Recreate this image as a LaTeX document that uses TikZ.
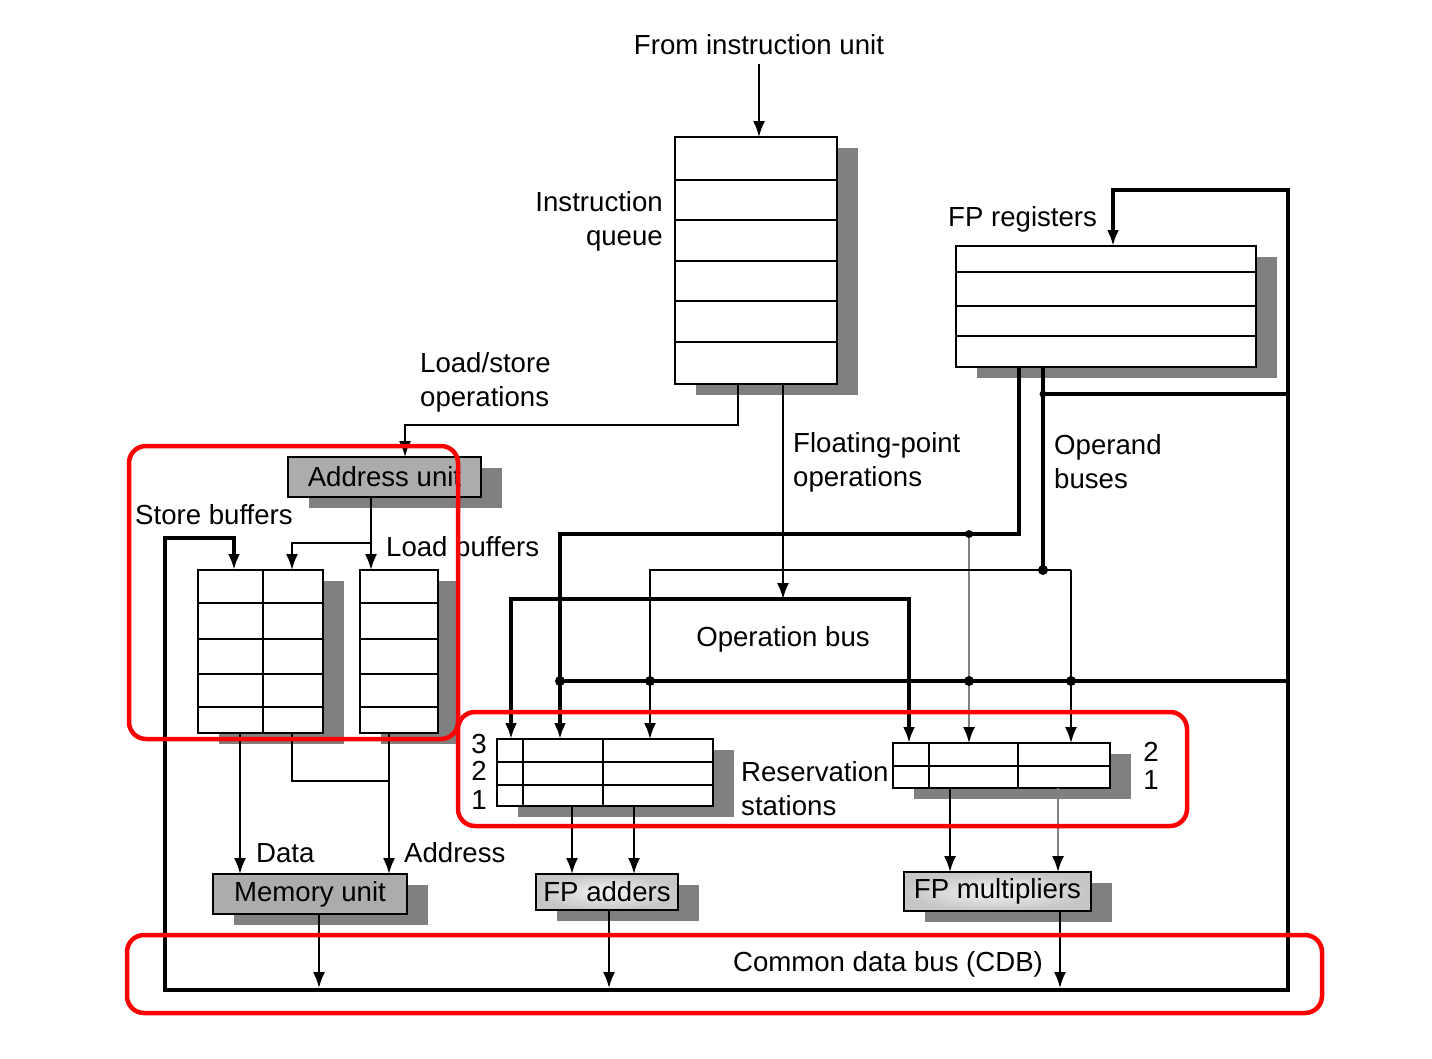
\documentclass[tikz,border=0pt]{standalone}
\usepackage{fontspec}
\setmainfont{Liberation Sans}
\usetikzlibrary{arrows.meta,backgrounds,calc}

\tikzset{
  bus/.style={line width=2pt},
  thickbus/.style={line width=4pt},
  graybus/.style={line width=2pt, draw=gray},
  arr/.style={-{Latex[length=16pt,width=12pt,color=black]}},
  dblarr/.style={{Latex[length=16pt,width=12pt]}-{Latex[length=16pt,width=12pt]}},
  basebox/.style={draw, line width=2pt, inner sep=0pt, outer sep=0pt, anchor=north west},
  tablebox/.style={basebox, fill=white},
  unitbox/.style={basebox, fill=gray!65},
  fpbox/.style={basebox, inner color=gray!8, outer color=gray!45},
  shadowfill/.style={fill=gray},
  redbox/.style={draw=red, line width=4.5pt, rounded corners=17pt},
}

\begin{document}
\begin{tikzpicture}[x=1pt, y=-1pt, font=\fontsize{27.6}{34}\selectfont,
  every node/.style={inner sep=0pt}]
\useasboundingbox (0,0) rectangle (1432,1058);

% boxes
\node[tablebox, minimum width=162pt, minimum height=247pt] (iq) at (675,137) {};
\node[tablebox, minimum width=300pt, minimum height=121pt] (fpr) at (956,246) {};
\node[unitbox, minimum width=193pt, minimum height=40pt] (au) at (288,457) {Address unit};
\node[tablebox, minimum width=125pt, minimum height=163pt] (sb) at (198,570) {};
\node[tablebox, minimum width=78pt, minimum height=163pt] (lb) at (360,570) {};
\node[tablebox, minimum width=216pt, minimum height=67pt] (rsa) at (497,739) {};
\node[tablebox, minimum width=217pt, minimum height=45pt] (rsm) at (893,743) {};
\node[unitbox, minimum width=194pt, minimum height=40pt] (mu) at (213,874) {Memory unit};
\node[fpbox, minimum width=142pt, minimum height=36pt] (fpa) at (536,874) {FP adders};
\node[fpbox, minimum width=187pt, minimum height=39pt] (fpm) at (904,872) {FP multipliers};

\begin{scope}[on background layer]
\foreach \n in {iq,fpr,au,sb,lb,rsa,rsm,mu,fpa,fpm}
  \fill[shadowfill] ([shift={(21,11)}]\n.north west) rectangle ([shift={(21,11)}]\n.south east);
\end{scope}

% table rows
\foreach \y in {180,220,261,301,342} \draw[bus] (675,\y) -- (837,\y);
\foreach \y in {272,306,336} \draw[bus] (956,\y) -- (1256,\y);
\foreach \y in {603,639,674,707} {
  \draw[bus] (198,\y) -- (323,\y);
  \draw[bus] (360,\y) -- (438,\y);
}
\draw[bus] (263,570) -- (263,733);
\foreach \y in {762,785} \draw[bus] (497,\y) -- (713,\y);
\foreach \x in {523,603} \draw[bus] (\x,739) -- (\x,806);
\draw[bus] (893,766) -- (1110,766);
\foreach \x in {929,1018} \draw[bus] (\x,743) -- (\x,788);

% labels
\node (from) at (759,45) {From instruction unit};
\node[anchor=east, align=right] (iqlbl) at (663,221) {Instruction\\queue};
\node[anchor=west, align=left] (lslbl) at (420,382) {Load/store\\operations};
\node[anchor=west] (frlbl) at (948,219) {FP registers};
\node[anchor=west, align=left] (fplbl) at (793,462) {Floating-point\\operations};
\node[anchor=west, align=left] (odlbl) at (1054,462) {Operand\\buses};
\node[anchor=west] (sblbl) at (135,515) {Store buffers};
\node[anchor=west] (lblbl) at (386,547) {Load buffers};
\node (oblbl) at (783,639) {Operation bus};
\node[anchor=west, align=left] (rslbl) at (741,789) {Reservation\\stations};
\foreach \n/\y in {3/744,2/771,1/800} \node (rsanum\n) at (479,\y) {\n};
\foreach \n/\y in {2/752,1/780} \node (rsmnum\n) at (1151,\y) {\n};
\node[anchor=west] (dlbl) at (256,853) {Data};
\node[anchor=west] (albl) at (404,853) {Address};
\node (cdblbl) at (888,964) {Common data bus (CDB)};

% bus points
\coordinate (opA) at (560,534);
\coordinate (opB) at (969,534);
\coordinate (opC) at (1043,570);
\coordinate (opD) at (650,570);
\coordinate (opE) at (1071,570);
\coordinate (obL) at (511,599);
\coordinate (obR) at (909,599);
\coordinate (cdbL) at (165,990);
\coordinate (cdbR) at (1288,990);
\coordinate (cdbT) at (1288,190);
\coordinate (cdbRS) at (1288,681);
\coordinate (cdbFR) at (1288,394);

% instruction issue
\draw[bus,arr] ([yshift=-9pt]from.south) -- (from.south |- iq.north);
\draw[bus,arr] ([xshift=63pt]iq.south west) -- ++(0,41) -| ([xshift=117pt]au.north west);
\coordinate (fpop) at ([xshift=108pt]iq.south west);
\draw[bus,arr] (fpop) -- (fpop |- obL);

% operation bus
\draw[thickbus,arr] (obR) -| (obL |- rsa.north);
\draw[thickbus,arr] (obL) -| (obR |- rsm.north);

% operand buses
\draw[thickbus,arr] ([xshift=63pt]fpr.south west) |- (opA) -- (opA |- rsa.north);
\draw[graybus,arr] (opB) -- (opB |- rsm.north);
\draw[thickbus] ([xshift=87pt]fpr.south west) -- (opC);
\draw[bus,arr] (opE) -- (opD) -- (opD |- rsa.north);
\draw[bus,arr] (opE) -- (opE |- rsm.north);

% common data bus
\draw[thickbus,dblarr] ([xshift=36pt]sb.north west) -- ++(0,-32) -| (cdbL)
  -- (cdbR) -- (cdbT) -| ([xshift=157pt]fpr.north west);
\draw[thickbus] (cdbRS) -- (opA |- cdbRS);
\draw[thickbus] (cdbFR) -- (opC |- cdbFR);
\foreach \x in {560,650,969,1071} \fill (\x,681) circle (5pt);
\fill (opB) circle (4pt);
\fill (opC) circle (5pt);
\fill (opC |- cdbFR) circle (3.5pt);

% address unit to buffers
\coordinate (auo) at ([xshift=83pt]au.south west);
\draw[bus,arr] (auo) -- (auo |- lb.north);
\coordinate (aub) at ($(auo)+(0,46)$);
\draw[bus,arr] (aub) -| ([xshift=94pt]sb.north west);

% buffers to memory
\coordinate (sbd) at ([xshift=42pt]sb.south west);
\draw[bus,arr] (sbd) -- (sbd |- mu.north);
\coordinate (lbo) at ([xshift=29pt]lb.south west);
\draw[bus,arr] (lbo) -- (lbo |- mu.north);
\draw[bus] ([xshift=94pt]sb.south west) |- ($(lbo)+(0,48)$);

% stations to units
\coordinate (rsa1) at ([xshift=75pt]rsa.south west);
\coordinate (rsa2) at ([xshift=137pt]rsa.south west);
\coordinate (rsm1) at ([xshift=57pt]rsm.south west);
\coordinate (rsm2) at ([xshift=165pt]rsm.south west);
\draw[bus,arr] (rsa1) -- (rsa1 |- fpa.north);
\draw[bus,arr] (rsa2) -- (rsa2 |- fpa.north);
\draw[bus,arr] (rsm1) -- (rsm1 |- fpm.north);
\draw[graybus,arr] (rsm2) -- (rsm2 |- fpm.north);

% units to CDB
\coordinate (muo) at ([xshift=106pt]mu.south west);
\coordinate (fpao) at ([xshift=73pt]fpa.south west);
\coordinate (fpmo) at ([xshift=156pt]fpm.south west);
\foreach \c in {muo,fpao,fpmo}
  \draw[bus,arr,shorten >=2pt] (\c) -- (\c |- cdbL);

% highlights
\draw[redbox] (129,446) rectangle (458,739);
\draw[redbox] (458,712) rectangle (1187,826);
\draw[redbox] (127,935) rectangle (1322,1013);
\end{tikzpicture}
\end{document}
